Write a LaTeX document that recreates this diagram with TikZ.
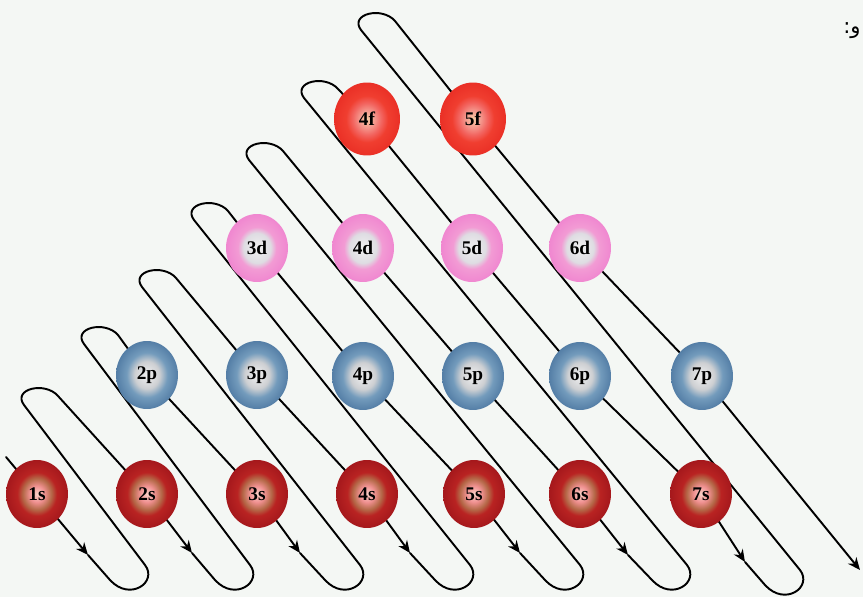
\documentclass[tikz,border=0pt]{standalone}
\usepackage{fontspec}
\setmainfont{Liberation Serif}
\newfontfamily\arabicfont[Script=Arabic]{DejaVu Sans}
\TeXXeTstate=1
\usetikzlibrary{arrows.meta,shapes.geometric}
\pgfdeclarelayer{back}
\pgfdeclarelayer{bg}
\pgfsetlayers{back,bg,main}

\definecolor{bgc}{RGB}{244,247,244}
% s colours
\definecolor{sA}{RGB}{250,210,200}
\definecolor{sB}{RGB}{240,145,145}
\definecolor{sC}{RGB}{180,105,72}
\definecolor{sD}{RGB}{185,35,34}
\definecolor{sE}{RGB}{165,24,28}
% p colours
\definecolor{pA}{RGB}{240,240,240}
\definecolor{pB}{RGB}{205,207,210}
\definecolor{pC}{RGB}{115,155,188}
\definecolor{pD}{RGB}{84,126,166}
% d colours
\definecolor{dA}{RGB}{240,240,240}
\definecolor{dB}{RGB}{222,220,226}
\definecolor{dC}{RGB}{242,155,212}
\definecolor{dD}{RGB}{240,135,208}
% f colours
\definecolor{fA}{RGB}{250,205,165}
\definecolor{fB}{RGB}{244,150,140}
\definecolor{fC}{RGB}{242,100,95}
\definecolor{fD}{RGB}{240,62,48}
\definecolor{fE}{RGB}{234,48,38}

\pgfdeclareradialshading{shS}{\pgfpoint{0bp}{0bp}}{color(0bp)=(sA); color(6bp)=(sB); color(11.5bp)=(sC); color(16bp)=(sD); color(25bp)=(sE); color(50bp)=(sE)}
\pgfdeclareradialshading{shP}{\pgfpoint{0bp}{0bp}}{color(0bp)=(pA); color(10bp)=(pB); color(16.5bp)=(pC); color(25bp)=(pD); color(50bp)=(pD)}
\pgfdeclareradialshading{shD}{\pgfpoint{0bp}{0bp}}{color(0bp)=(dA); color(11bp)=(dB); color(15.5bp)=(dC); color(25bp)=(dD); color(50bp)=(dD)}
\pgfdeclareradialshading{shF}{\pgfpoint{0bp}{0bp}}{color(0bp)=(fA); color(6bp)=(fB); color(11bp)=(fC); color(16bp)=(fD); color(25bp)=(fE); color(50bp)=(fE)}

\tikzset{
  orb/.style={ellipse, inner sep=0pt, minimum width=1.24cm, minimum height=1.36cm,
    font=\bfseries\fontsize{11}{11}\selectfont, text=black},
  sorb/.style={orb, shade, shading=shS},
  porb/.style={orb, shade, shading=shP},
  dorb/.style={orb, shade, shading=shD},
  forb/.style={orb, shade, shading=shF, minimum width=1.32cm, minimum height=1.46cm},
  wire/.style={line width=1.1pt, black, line join=round, line cap=round},
  tip/.style={-{Stealth[length=7pt,width=6pt]}},
}

\begin{document}
\begin{tikzpicture}[x=0.02cm, y=-0.02cm]
\begin{pgfonlayer}{back}
\fill[bgc] (0,0) rectangle (863,597);
\end{pgfonlayer}
\useasboundingbox (0,0) rectangle (863,597);

% orbitals
\node[sorb] (1s) at (37,494) {1s};
\node[sorb] (2s) at (147,494) {2s};
\node[sorb] (3s) at (257,494) {3s};
\node[sorb] (4s) at (367,494) {4s};
\node[sorb] (5s) at (474,494) {5s};
\node[sorb] (6s) at (580,494) {6s};
\node[sorb] (7s) at (701,494) {7s};
\node[porb] (2p) at (147,375) {2p};
\node[porb] (3p) at (257,375) {3p};
\node[porb] (4p) at (363,376) {4p};
\node[porb] (5p) at (473,376) {5p};
\node[porb] (6p) at (580,376) {6p};
\node[porb] (7p) at (702,376) {7p};
\node[dorb] (3d) at (257,248) {3d};
\node[dorb] (4d) at (363,248) {4d};
\node[dorb] (5d) at (472,248) {5d};
\node[dorb] (6d) at (580,248) {6d};
\node[forb] (4f) at (367,119) {4f};
\node[forb] (5f) at (473,119) {5f};

% text fragment at top right
\node[anchor=east, inner sep=0pt, font=\arabicfont\fontsize{12}{12}\selectfont] (ar) at (861,31) {\beginR و:\endR};

% path points
\coordinate (S1) at (6,457);
\coordinate (A1) at (88,555);  \coordinate (L1) at (110,580); \coordinate (R1) at (145,565);
\coordinate (A2) at (192,553); \coordinate (L2) at (215,580); \coordinate (R2) at (250,565);
\coordinate (A3) at (300,553); \coordinate (L3) at (325,580); \coordinate (R3) at (360,565);
\coordinate (A4) at (410,553); \coordinate (L4) at (435,580); \coordinate (R4) at (470,565);
\coordinate (A5) at (520,553); \coordinate (L5) at (545,580); \coordinate (R5) at (580,565);
\coordinate (A6) at (628,555); \coordinate (L6) at (652,580); \coordinate (R6) at (687,565);
\coordinate (A7) at (745,562); \coordinate (L7) at (765,585); \coordinate (R7) at (800,570);
\coordinate (TL2) at (24,405);  \coordinate (TR2) at (58,396);
\coordinate (TL3) at (84,344);  \coordinate (TR3) at (118,335);
\coordinate (TL4) at (142,287); \coordinate (TR4) at (176,278);
\coordinate (TL5) at (194,220); \coordinate (TR5) at (228,211);
\coordinate (TL6) at (249,160); \coordinate (TR6) at (283,151);
\coordinate (TL7) at (304,98);  \coordinate (TR7) at (338,89);
\coordinate (TL8) at (361,30);  \coordinate (TR8) at (395,21);
\coordinate (E8) at (860,570);

\begin{pgfonlayer}{bg}
% line 1
\draw[wire,tip] (S1) -- (1s.center) -- (A1);
\draw[wire] (A1) -- (L1) .. controls +(20,22) and +(13,17) .. (R1) -- (TL2) .. controls +(-12,-16) and +(-13,-15) .. (TR2);
% line 2
\draw[wire,tip] (TR2) -- (2s.center) -- (A2);
\draw[wire] (A2) -- (L2) .. controls +(20,22) and +(13,17) .. (R2) -- (TL3) .. controls +(-12,-16) and +(-13,-15) .. (TR3);
% line 3
\draw[wire,tip] (TR3) -- (2p.center) -- (3s.center) -- (A3);
\draw[wire] (A3) -- (L3) .. controls +(20,22) and +(13,17) .. (R3) -- (TL4) .. controls +(-12,-16) and +(-13,-15) .. (TR4);
% line 4
\draw[wire,tip] (TR4) -- (3p.center) -- (4s.center) -- (A4);
\draw[wire] (A4) -- (L4) .. controls +(20,22) and +(13,17) .. (R4) -- (TL5) .. controls +(-12,-16) and +(-13,-15) .. (TR5);
% line 5
\draw[wire,tip] (TR5) -- (3d.center) -- (4p.center) -- (5s.center) -- (A5);
\draw[wire] (A5) -- (L5) .. controls +(20,22) and +(13,17) .. (R5) -- (TL6) .. controls +(-12,-16) and +(-13,-15) .. (TR6);
% line 6
\draw[wire,tip] (TR6) -- (4d.center) -- (5p.center) -- (6s.center) -- (A6);
\draw[wire] (A6) -- (L6) .. controls +(20,22) and +(13,17) .. (R6) -- (TL7) .. controls +(-12,-16) and +(-13,-15) .. (TR7);
% line 7
\draw[wire,tip] (TR7) -- (4f.center) -- (5d.center) -- (6p.center) -- (7s.center) -- (A7);
\draw[wire] (A7) -- (L7) .. controls +(20,22) and +(13,17) .. (R7) -- (TL8) .. controls +(-12,-16) and +(-13,-15) .. (TR8);
% line 8
\draw[wire,tip] (TR8) -- (5f.center) -- (6d.center) -- (7p.center) -- (E8);
\end{pgfonlayer}
\end{tikzpicture}
\end{document}
